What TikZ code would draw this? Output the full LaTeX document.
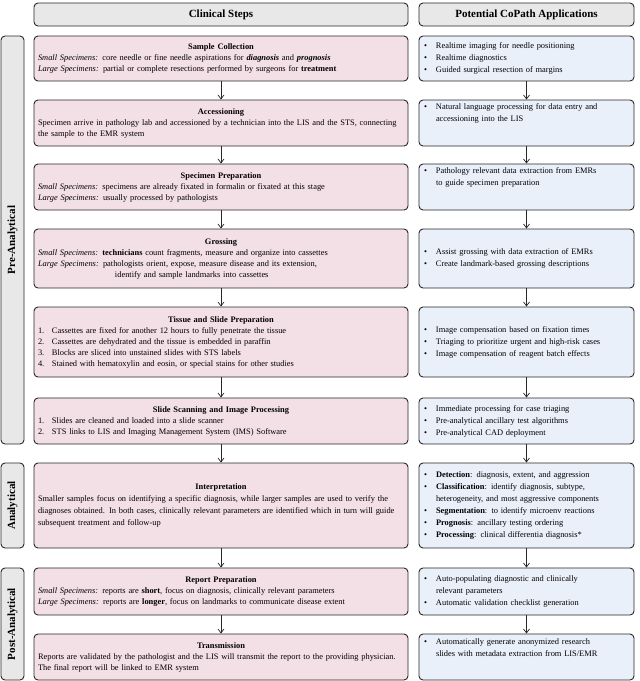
\documentclass[tikz,border=0pt]{standalone}
\usepackage{fontspec}
\setmainfont{Liberation Serif}
\usetikzlibrary{arrows.meta}
\definecolor{stepfill}{RGB}{243,223,230}
\definecolor{appfill}{RGB}{234,240,250}
\definecolor{headfill}{RGB}{232,232,232}
\definecolor{edge}{RGB}{40,40,40}
\newcommand{\steptitle}[1]{\makebox[\linewidth][c]{\textbf{#1}}}
\newcommand{\smallspec}{\textit{Small Specimens:}}
\newcommand{\largespec}{\textit{Large Specimens:}}
\newcommand{\nitem}[1]{\makebox[14pt][l]{#1}}
\newcommand{\bitem}{\makebox[12pt][l]{\textbullet}}
\tikzset{
  box/.style={draw=edge,line width=0.9pt,rounded corners=4pt,inner sep=0pt},
  clin/.style={box,fill=stepfill,minimum width=374pt},
  app/.style={box,fill=appfill,minimum width=215pt},
  head/.style={box,fill=headfill,font=\fontsize{11}{13}\selectfont\bfseries},
  steptxt/.style={text width=366pt,align=left,inner sep=0pt,font=\fontsize{8.4}{11}\selectfont},
  apptxt/.style={text width=205pt,align=left,inner sep=0pt,font=\fontsize{8.4}{12}\selectfont},
  flow/.style={-{Straight Barb[length=4pt,width=6pt]},line width=0.7pt,edge}
}
\begin{document}
\begin{tikzpicture}[x=1pt,y=-1pt]
\useasboundingbox (0,0) rectangle (640,681);
\pgfmathsetmacro{\lx}{221}
\pgfmathsetmacro{\rx}{526.5}
% headers
\node[head,minimum width=374pt,minimum height=23pt] (hl) at (\lx,14.5) {Clinical Steps};
\node[head,minimum width=215pt,minimum height=23pt] (hr) at (\rx,14.5) {Potential CoPath Applications};
% phases
\node[head,minimum width=408pt,minimum height=23pt,rotate=90] (pre) at (12.5,240) {Pre-Analytical};
\node[head,minimum width=85pt,minimum height=23pt,rotate=90] (ana) at (12.5,505.5) {Analytical};
\node[head,minimum width=112pt,minimum height=23pt,rotate=90] (post) at (12.5,624) {Post-Analytical};
% clinical steps
\node[clin,minimum height=45pt] (s1) at (\lx,58.5) {};
\node[steptxt] (s1t) at (s1) {\steptitle{Sample Collection}\\
\smallspec{} core needle or fine needle aspirations for \textbf{\textit{diagnosis}} and \textbf{\textit{prognosis}}\\
\largespec{} partial or complete resections performed by surgeons for \textbf{treatment}};
\node[clin,minimum height=46pt] (s2) at (\lx,123) {};
\node[steptxt] (s2t) at (s2) {\steptitle{Accessioning}\\
Specimen arrive in pathology lab and accessioned by a technician into the LIS and the STS, connecting the sample to the EMR system};
\node[clin,minimum height=46pt] (s3) at (\lx,187) {};
\node[steptxt] (s3t) at (s3) {\steptitle{Specimen Preparation}\\
\smallspec{} specimens are already fixated in formalin or fixated at this stage\\
\largespec{} usually processed by pathologists};
\node[clin,minimum height=59pt] (s4) at (\lx,258.5) {};
\node[steptxt] (s4t) at (s4) {\steptitle{Grossing}\\
\smallspec{} \textbf{technicians} count fragments, measure and organize into cassettes\\
\largespec{} pathologists orient, expose, measure disease and its extension,\\
\hspace*{77pt}identify and sample landmarks into cassettes};
\node[clin,minimum height=70pt] (s5) at (\lx,342) {};
\node[steptxt] (s5t) at (s5) {\steptitle{Tissue and Slide Preparation}\\
\nitem{1.}Cassettes are fixed for another 12 hours to fully penetrate the tissue\\
\nitem{2.}Cassettes are dehydrated and the tissue is embedded in paraffin\\
\nitem{3.}Blocks are sliced into unstained slides with STS labels\\
\nitem{4.}Stained with hematoxylin and eosin, or special stains for other studies};
\node[clin,minimum height=46pt] (s6) at (\lx,421) {};
\node[steptxt] (s6t) at (s6) {\steptitle{Slide Scanning and Image Processing}\\
\nitem{1.}Slides are cleaned and loaded into a slide scanner\\
\nitem{2.}STS links to LIS and Imaging Management System (IMS) Software};
\node[clin,minimum height=85pt] (s7) at (\lx,505.5) {};
\node[steptxt,font=\fontsize{8.4}{12}\selectfont] (s7t) at (s7) {\steptitle{Interpretation}\\
Smaller samples focus on identifying a specific diagnosis, while larger samples are used to verify the diagnoses obtained. In both cases, clinically relevant parameters are identified which in turn will guide subsequent treatment and follow-up};
\node[clin,minimum height=47pt] (s8) at (\lx,591.5) {};
\node[steptxt] (s8t) at (s8) {\steptitle{Report Preparation}\\
\smallspec{} reports are \textbf{short}, focus on diagnosis, clinically relevant parameters\\
\largespec{} reports are \textbf{longer}, focus on landmarks to communicate disease extent};
\node[clin,minimum height=46pt] (s9) at (\lx,657) {};
\node[steptxt] (s9t) at (s9) {\steptitle{Transmission}\\
Reports are validated by the pathologist and the LIS will transmit the report to the providing physician. The final report will be linked to EMR system};
% copath applications
\node[app,minimum height=45pt] (a1) at (\rx,58.5) {};
\node[apptxt] (a1t) at (a1) {\bitem Realtime imaging for needle positioning\\
\bitem Realtime diagnostics\\
\bitem Guided surgical resection of margins};
\node[app,minimum height=46pt] (a2) at (\rx,123) {};
\node[apptxt,anchor=north] (a2t) at ([yshift=-4pt]a2.north) {\bitem Natural language processing for data entry and\\
\hspace*{12pt}accessioning into the LIS};
\node[app,minimum height=46pt] (a3) at (\rx,187) {};
\node[apptxt,anchor=north] (a3t) at ([yshift=-4pt]a3.north) {\bitem Pathology relevant data extraction from EMRs\\
\hspace*{12pt}to guide specimen preparation};
\node[app,minimum height=59pt] (a4) at (\rx,258.5) {};
\node[apptxt] (a4t) at (a4) {\bitem Assist grossing with data extraction of EMRs\\
\bitem Create landmark-based grossing descriptions};
\node[app,minimum height=70pt] (a5) at (\rx,342) {};
\node[apptxt] (a5t) at (a5) {\bitem Image compensation based on fixation times\\
\bitem Triaging to prioritize urgent and high-risk cases\\
\bitem Image compensation of reagent batch effects};
\node[app,minimum height=46pt] (a6) at (\rx,421) {};
\node[apptxt] (a6t) at (a6) {\bitem Immediate processing for case triaging\\
\bitem Pre-analytical ancillary test algorithms\\
\bitem Pre-analytical CAD deployment};
\node[app,minimum height=85pt] (a7) at (\rx,505.5) {};
\node[apptxt] (a7t) at (a7) {\bitem\textbf{Detection}: diagnosis, extent, and aggression\\
\bitem\textbf{Classification}: identify diagnosis, subtype,\\
\hspace*{12pt}heterogeneity, and most aggressive components\\
\bitem\textbf{Segmentation}: to identify microenv reactions\\
\bitem\textbf{Prognosis}: ancillary testing ordering\\
\bitem\textbf{Processing}: clinical differentia diagnosis*};
\node[app,minimum height=47pt] (a8) at (\rx,591.5) {};
\node[apptxt] (a8t) at (a8) {\bitem Auto-populating diagnostic and clinically\\
\hspace*{12pt}relevant parameters\\
\bitem Automatic validation checklist generation};
\node[app,minimum height=46pt] (a9) at (\rx,657) {};
\node[apptxt,anchor=north] (a9t) at ([yshift=-5pt]a9.north) {\bitem Automatically generate anonymized research\\
\hspace*{12pt}slides with metadata extraction from LIS/EMR};
% flow
\foreach \i [evaluate=\i as \j using int(\i+1)] in {1,...,8}{
  \draw[flow] (s\i.south) -- (s\j.north);
  \draw[flow] (a\i.south) -- (a\j.north);
}
\end{tikzpicture}
\end{document}
